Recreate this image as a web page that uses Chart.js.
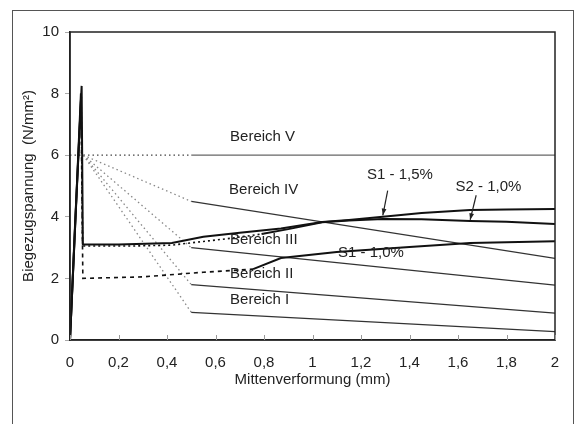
<!DOCTYPE html>
<html>
<head>
<meta charset="utf-8">
<script src="https://cdn.jsdelivr.net/npm/chart.js@4.4.1/dist/chart.umd.min.js"></script>
<style>
  html, body { margin: 0; padding: 0; background: #fff; }
  #chart { display: block; }
</style>
</head>
<body>
<canvas id="chart" width="578" height="424"></canvas>
<script>
// tick labels
const xTicks = [0, 0.2, 0.4, 0.6, 0.8, 1, 1.2, 1.4, 1.6, 1.8, 2];
const yTicks = [0, 2, 4, 6, 8, 10];

// S1 - 1,5% (Mittenverformung mm / Biegezugspannung N/mm2)
const s15X = [0, 0.02, 0.048, 0.053, 0.2, 0.42, 0.55, 0.7, 0.87, 1.04, 1.15, 1.29, 1.45, 1.65, 1.8, 2];
const s15Y = [0, 3.6, 8.25, 3.1, 3.1, 3.15, 3.35, 3.48, 3.62, 3.83, 3.9, 4.0, 4.12, 4.22, 4.24, 4.25];

// S2 - 1,0%
const s2X = [0, 0.02, 0.046, 0.052, 0.25, 0.42, 0.55, 0.66, 0.79, 0.9, 1.04, 1.15, 1.29, 1.45, 1.65, 1.8, 2];
const s2Y = [0, 3.5, 7.9, 3.05, 3.05, 3.08, 3.2, 3.3, 3.44, 3.6, 3.82, 3.88, 3.93, 3.92, 3.86, 3.84, 3.77];

// S1 - 1,0%
const s1X = [0, 0.02, 0.045, 0.053, 0.3, 0.55, 0.755, 0.87, 1.1, 1.4, 1.65, 2];
const s1Y = [0, 3.5, 8.0, 2.0, 2.05, 2.2, 2.3, 2.66, 2.86, 3.02, 3.15, 3.21];

// Bereiche I - V: Fächer ab Rissspannung, Knick bei 0,5 mm, Ende bei 2 mm
const bereichNames = ['Bereich I', 'Bereich II', 'Bereich III', 'Bereich IV', 'Bereich V'];
const bereichStartX = [0.055, 0.055, 0.055, 0.055, 0];
const bereichStartY = [6, 6, 6, 6, 6];
const bereichKneeX = [0.5, 0.5, 0.5, 0.5, 0.5];
const bereichKneeY = [0.9, 1.8, 3.0, 4.5, 6];
const bereichEndX = [2, 2, 2, 2, 2];
const bereichEndY = [0.27, 0.87, 1.78, 2.65, 6];

// text anchors (data units, left / middle)
const notes = [
  { text: 'Bereich V', x: 0.66, y: 6.6 },
  { text: 'Bereich IV', x: 0.656, y: 4.87 },
  { text: 'Bereich III', x: 0.66, y: 3.25 },
  { text: 'Bereich II', x: 0.66, y: 2.14 },
  { text: 'Bereich I', x: 0.66, y: 1.3 },
  { text: 'S1 - 1,5%', x: 1.225, y: 5.36 },
  { text: 'S2 - 1,0%', x: 1.59, y: 4.97 },
  { text: 'S1 - 1,0%', x: 1.105, y: 2.82 }
];
const arrows = [
  { x0: 1.31, y0: 4.85, x1: 1.29, y1: 4.05 },
  { x0: 1.675, y0: 4.7, x1: 1.65, y1: 3.9 }
];

const pts = (xs, ys) => xs.map((v, i) => ({ x: v, y: ys[i] }));

function curve(label, xs, ys, from, to, dash) {
  return {
    label: label,
    data: pts(xs, ys),
    borderColor: '#111',
    borderWidth: 2,
    pointRadius: 0,
    showLine: true,
    segment: {
      borderDash: ctx => (ctx.p0DataIndex >= from && ctx.p1DataIndex <= to) ? dash : undefined,
      borderWidth: ctx => (ctx.p0DataIndex >= from && ctx.p1DataIndex <= to) ? 1.6 : undefined
    }
  };
}

const datasets = [
  curve('S1 - 1,5%', s15X, s15Y, 99, 99, []),
  curve('S2 - 1,0%', s2X, s2Y, 2, 8, [2, 3]),
  curve('S1 - 1,0%', s1X, s1Y, 2, 6, [4, 4])
];

bereichNames.forEach((name, i) => {
  datasets.push({
    label: name + ' (Übergang)',
    data: [{ x: bereichStartX[i], y: bereichStartY[i] }, { x: bereichKneeX[i], y: bereichKneeY[i] }],
    borderColor: i === 4 ? '#444' : '#888',
    borderWidth: 1.3,
    borderDash: [1.5, 3],
    pointRadius: 0,
    showLine: true
  });
  datasets.push({
    label: name,
    data: [{ x: bereichKneeX[i], y: bereichKneeY[i] }, { x: bereichEndX[i], y: bereichEndY[i] }],
    borderColor: i === 4 ? '#666' : '#333',
    borderWidth: 1.2,
    pointRadius: 0,
    showLine: true
  });
});

const FONT = '"Liberation Sans", Arial, sans-serif';

const decor = {
  id: 'decor',
  beforeDraw(chart) {
    const c = chart.ctx;
    c.save();
    c.fillStyle = '#fff';
    c.fillRect(0, 0, chart.width, chart.height);
    c.strokeStyle = '#555';
    c.lineWidth = 1;
    c.strokeRect(12.5, 10.5, 561, 440);
    c.restore();
  },
  afterDraw(chart) {
    const c = chart.ctx;
    const a = chart.chartArea;
    const x = chart.scales.x, y = chart.scales.y;
    c.save();
    c.strokeStyle = '#222';
    c.lineWidth = 1.5;
    c.strokeRect(a.left, a.top, a.right - a.left, a.bottom - a.top);

    // small inner ticks on the x axis
    c.strokeStyle = '#999';
    c.lineWidth = 1;
    xTicks.forEach(v => {
      const px = Math.round(x.getPixelForValue(v)) + 0.5;
      c.beginPath();
      c.moveTo(px, a.bottom);
      c.lineTo(px, a.bottom - 5);
      c.stroke();
    });

    c.fillStyle = '#222';
    c.font = '15px ' + FONT;
    c.textBaseline = 'middle';
    c.textAlign = 'left';
    notes.forEach(n => c.fillText(n.text, x.getPixelForValue(n.x), y.getPixelForValue(n.y)));

    c.strokeStyle = '#222';
    c.lineWidth = 1.2;
    arrows.forEach(ar => {
      const x0 = x.getPixelForValue(ar.x0), y0 = y.getPixelForValue(ar.y0);
      const x1 = x.getPixelForValue(ar.x1), y1 = y.getPixelForValue(ar.y1);
      const ang = Math.atan2(y1 - y0, x1 - x0);
      c.beginPath();
      c.moveTo(x0, y0);
      c.lineTo(x1, y1);
      c.stroke();
      c.beginPath();
      c.moveTo(x1, y1);
      c.lineTo(x1 - 7 * Math.cos(ang - 0.35), y1 - 7 * Math.sin(ang - 0.35));
      c.lineTo(x1 - 7 * Math.cos(ang + 0.35), y1 - 7 * Math.sin(ang + 0.35));
      c.closePath();
      c.fill();
    });

    c.textAlign = 'center';
    c.fillText('Mittenverformung (mm)', (a.left + a.right) / 2, a.bottom + 40);
    c.translate(29, (a.top + a.bottom) / 2);
    c.rotate(-Math.PI / 2);
    c.fillText('Biegezugspannung  (N/mm²)', 0, 0);
    c.restore();
  }
};

new Chart(document.getElementById('chart').getContext('2d'), {
  type: 'scatter',
  data: { datasets: datasets },
  options: {
    responsive: false,
    animation: false,
    layout: { padding: { top: 32, right: 23, left: 0, bottom: 0 } },
    plugins: {
      legend: { display: false },
      tooltip: { enabled: false }
    },
    scales: {
      x: {
        type: 'linear',
        min: 0,
        max: 2,
        afterBuildTicks: axis => { axis.ticks = xTicks.map(v => ({ value: v })); },
        afterFit: axis => { axis.height = 84; },
        grid: { display: true, drawOnChartArea: false, drawTicks: false },
        border: { color: '#222', width: 1.5 },
        ticks: {
          padding: 14,
          color: '#222',
          font: { family: FONT, size: 15 },
          callback: v => String(Math.round(v * 10) / 10).replace('.', ',')
        }
      },
      y: {
        type: 'linear',
        min: 0,
        max: 10,
        afterBuildTicks: axis => { axis.ticks = yTicks.map(v => ({ value: v })); },
        afterFit: axis => { axis.width = 70; },
        grid: { drawOnChartArea: false, drawTicks: true, tickLength: 5, color: '#aaa' },
        border: { color: '#222', width: 1.5 },
        ticks: {
          padding: 6,
          color: '#222',
          font: { family: FONT, size: 15 }
        }
      }
    }
  },
  plugins: [decor]
});
</script>
</body>
</html>
